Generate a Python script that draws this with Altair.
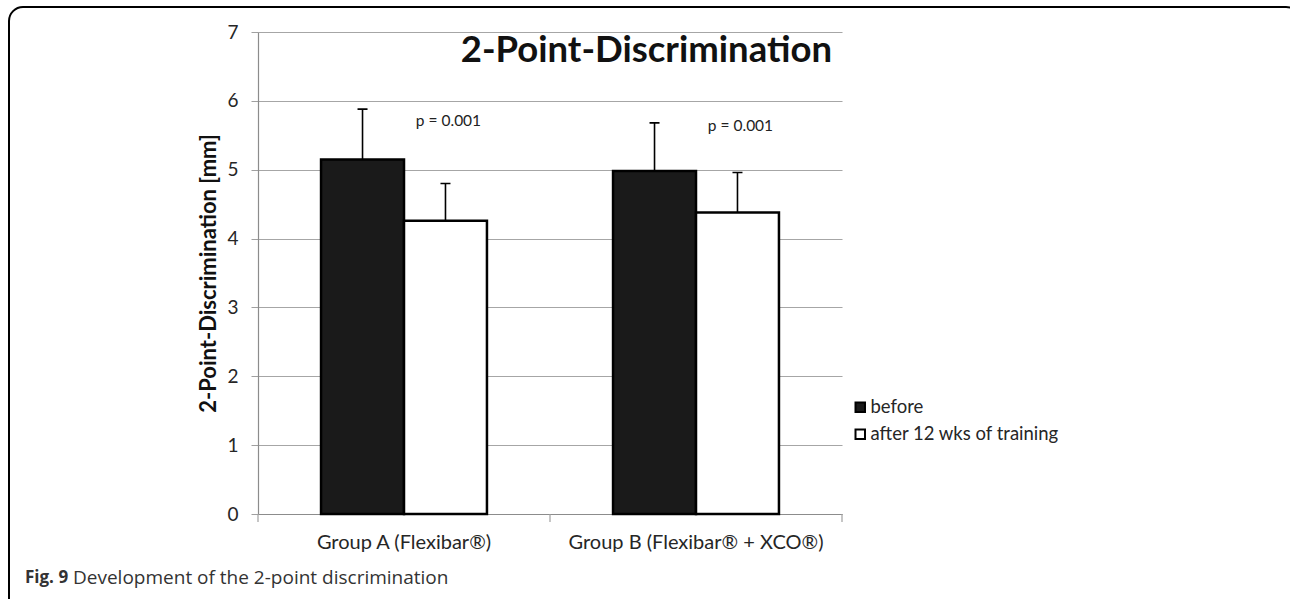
import altair as alt
import pandas as pd

# Two-point discrimination (mm), mean and SD, before / after 12 weeks of training
groups = ["Group A (Flexibar®)", "Group B (Flexibar® + XCO®)"]
series = ["before", "after 12 wks of training"]
before_mean = [5.15, 4.98]
before_sd = [0.73, 0.70]
after_mean = [4.26, 4.38]
after_sd = [0.54, 0.58]
p_labels = ["p = 0.001", "p = 0.001"]
p_y = [5.71, 5.64]
y_ticks = [0, 1, 2, 3, 4, 5, 6, 7]

rows = []
for i, g in enumerate(groups):
    rows.append({"group": g, "series": series[0], "mean": before_mean[i],
                 "top": before_mean[i] + before_sd[i]})
    rows.append({"group": g, "series": series[1], "mean": after_mean[i],
                 "top": after_mean[i] + after_sd[i]})
df = pd.DataFrame(rows)
pdf = pd.DataFrame({"group": groups, "series": [series[1]] * 2,
                    "label": p_labels, "y": p_y})

W, H = 584, 482
LEFT, TOP = 258, 32

x_scale = alt.Scale(type="band", paddingInner=0, paddingOuter=0)
xo_scale = alt.Scale(type="band", domain=series, paddingInner=0,
                     paddingOuter=0.76)
y_scale = alt.Scale(domain=[0, 7], nice=False, zero=True)

x_axis = alt.Axis(title=None, ticks=False, labelAngle=0,
                  labelFontSize=20, labelColor="#262626",
                  labelFont="Lato", labelPadding=18, labelLimit=0,
                  domainColor="#8c8c8c", domainWidth=1.2)
y_axis = alt.Axis(values=y_ticks, format="d",
                  title="2-Point-Discrimination [mm]",
                  titleFont="Lato", titleFontSize=22,
                  titleFontWeight="bold", titleColor="#111",
                  titlePadding=6,
                  labelFont="Lato", labelFontSize=19,
                  labelColor="#262626", labelPadding=13,
                  tickSize=7, tickColor="#a0a0a0",
                  gridColor="#a6a6a6", gridWidth=1.2,
                  domainColor="#8c8c8c", domainWidth=1.2)


def xpos(axis=None):
    return alt.X("group:N", sort=groups, scale=x_scale, axis=axis)


def xoff():
    return alt.XOffset("series:N", sort=series, scale=xo_scale)


def ypos(field):
    return alt.Y(field, scale=y_scale, axis=y_axis)


bars = alt.Chart(df).mark_bar(stroke="black", strokeWidth=2.5).encode(
    x=xpos(x_axis),
    xOffset=xoff(),
    y=ypos("mean:Q"),
    fill=alt.Fill("series:N", sort=series,
                  scale=alt.Scale(domain=series, range=["#1a1a1a", "#ffffff"]),
                  legend=alt.Legend(title=None, orient="none",
                                    legendX=593, legendY=366,
                                    symbolType="square", symbolSize=90,
                                    symbolStrokeColor="black",
                                    symbolStrokeWidth=2,
                                    labelFont="Lato", labelFontSize=18.5,
                                    labelColor="#262626", rowPadding=8,
                                    labelOffset=1, labelLimit=0)),
)

# standard deviation whiskers (upward only) with a short cap
err = alt.Chart(df).mark_bar(color="black", width=1.6).encode(
    x=xpos(), xOffset=xoff(), y=ypos("mean:Q"), y2="top:Q",
)
caps = alt.Chart(df).mark_bar(fill="black", stroke="black", strokeWidth=1.6,
                              width=10).encode(
    x=xpos(), xOffset=xoff(), y=ypos("top:Q"), y2="top:Q",
)

ptext = alt.Chart(pdf).mark_text(
    font="Lato", fontSize=15.5, color="#222", baseline="middle", dx=3
).encode(x=xpos(), xOffset=xoff(), y=ypos("y:Q"), text="label:N")

# category separator ticks below the x axis
tick_df = pd.DataFrame({"px": [0, W / 2, W]})
xticks = alt.Chart(tick_df).mark_rule(color="#a0a0a0", strokeWidth=1.2).encode(
    x=alt.X("px:Q", scale=alt.Scale(domain=[0, W], range=[0, W]), axis=None),
    y=alt.value(H), y2=alt.value(H + 8),
)

title_df = pd.DataFrame({"t": ["2-Point-Discrimination"]})
title = alt.Chart(title_df).mark_text(
    font="Lato", fontSize=36.5, fontWeight="bold", color="#111",
    align="right", baseline="middle"
).encode(x=alt.value(574), y=alt.value(19), text="t:N")

cap_df1 = pd.DataFrame({"t": ["Fig. 9"]})
cap_df2 = pd.DataFrame({"t": ["Development of the 2-point discrimination"]})
cap1 = alt.Chart(cap_df1).mark_text(
    font="Open Sans", fontSize=17, fontWeight="bold", color="#333",
    align="left", baseline="middle"
).encode(x=alt.value(25 - LEFT), y=alt.value(578 - TOP), text="t:N")
cap2 = alt.Chart(cap_df2).mark_text(
    font="Open Sans", fontSize=19, color="#333",
    align="left", baseline="middle"
).encode(x=alt.value(73 - LEFT), y=alt.value(578 - TOP), text="t:N")

frame_df = pd.DataFrame({"k": [1]})
frame = alt.Chart(frame_df).mark_rect(
    fill=None, stroke="black", strokeWidth=2, cornerRadius=14
).encode(x=alt.value(9 - LEFT), x2=alt.value(1300 - LEFT),
         y=alt.value(7 - TOP), y2=alt.value(640 - TOP))

chart = alt.layer(
    bars, err, caps, ptext, xticks, title, cap1, cap2, frame
).properties(
    width=W, height=H,
    autosize=alt.AutoSizeParams(type="none"),
    padding={"left": LEFT, "top": TOP, "right": 1290 - LEFT - W,
             "bottom": 599 - TOP - H},
    background="white",
).configure_view(stroke=None)

chart.save("out.html", embed_options={"renderer": "svg", "actions": False})
